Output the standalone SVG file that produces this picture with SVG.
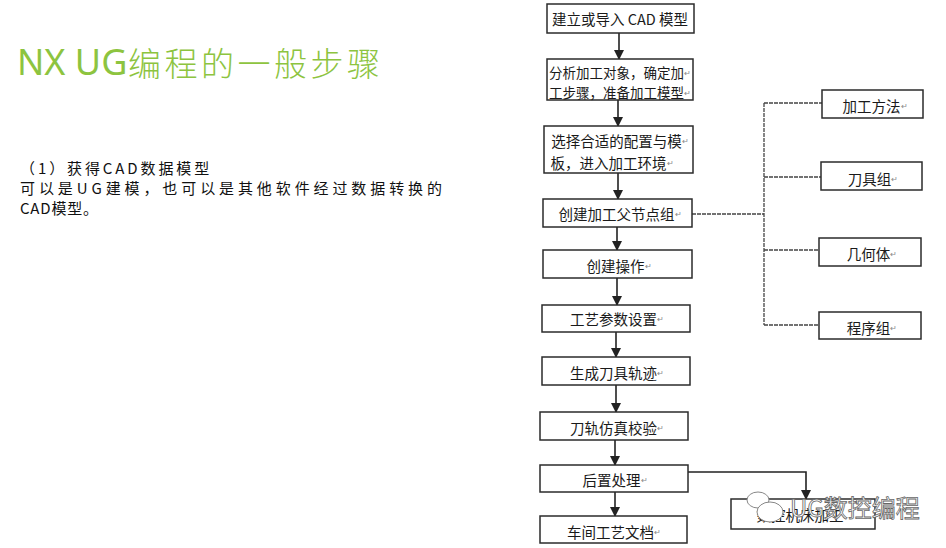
<svg xmlns="http://www.w3.org/2000/svg" width="946" height="548" viewBox="0 0 946 548">
<defs>
<style>
.box{fill:#fff;stroke:#2b2b2b;stroke-width:1.5}
.t{font-family:"Noto Sans CJK SC","Noto Sans",sans-serif;font-size:14.5px;fill:#1a1a1a;text-anchor:middle;dominant-baseline:central}
.s{font-size:13.5px}
.rt{font-size:8px;fill:#888}
.flow{stroke:#222;stroke-width:1.6;fill:none}
.side{stroke:#444;stroke-width:1.3;fill:none;stroke-dasharray:4 1}
.body{font-family:"Noto Sans CJK SC","Noto Sans",sans-serif;font-size:15px;fill:#111}
</style>
<marker id="ah" markerWidth="10" markerHeight="10" refX="9" refY="5" orient="auto" markerUnits="userSpaceOnUse">
<path d="M0,0 L10,5 L0,10 Z" fill="#222"/>
</marker>
</defs>
<rect width="946" height="548" fill="#fff"/>
<g id="title">
<text x="17" y="75" font-family="'Noto Sans','Open Sans',sans-serif" font-size="36" fill="#8dc43f">NX UG</text>
<text x="128" y="76" font-family="'Noto Sans CJK SC',sans-serif" font-weight="300" font-size="33" fill="#8dc43f" textLength="252" lengthAdjust="spacing">编程的一般步骤</text>
</g>
<g id="desc">
<text class="body" x="20" y="174" letter-spacing="2.9">（1）获得CAD数据模型</text>
<text class="body" x="20" y="194" letter-spacing="3.9">可以是UG建模，也可以是其他软件经过数据转换的</text>
<text class="body" x="20" y="214" letter-spacing="0.8">CAD模型。</text>
</g>
<g id="connectors">
<line class="flow" x1="619" y1="33" x2="619" y2="59" marker-end="url(#ah)"/>
<line class="flow" x1="618" y1="100" x2="618" y2="126" marker-end="url(#ah)"/>
<line class="flow" x1="618" y1="173" x2="618" y2="199" marker-end="url(#ah)"/>
<line class="flow" x1="617" y1="227" x2="617" y2="250" marker-end="url(#ah)"/>
<line class="flow" x1="617" y1="278" x2="617" y2="305" marker-end="url(#ah)"/>
<line class="flow" x1="616" y1="332" x2="616" y2="357" marker-end="url(#ah)"/>
<line class="flow" x1="616" y1="385" x2="616" y2="412" marker-end="url(#ah)"/>
<line class="flow" x1="615" y1="440" x2="615" y2="465" marker-end="url(#ah)"/>
<line class="flow" x1="615" y1="492" x2="615" y2="516" marker-end="url(#ah)"/>
<path class="side" d="M692,214 H764"/>
<path class="side" d="M764,103 V325"/>
<path class="side" d="M764,103 H822"/>
<path class="side" d="M764,177 H821"/>
<path class="side" d="M764,250 H819"/>
<path class="side" d="M764,325 H819"/>
<path class="flow" d="M688,472 H806 V499" marker-end="url(#ah)"/>
</g>
<g id="n1"><rect class="box" x="547" y="4" width="147" height="29"/><text class="t" x="620" y="18">建立或导入 CAD 模型</text></g>
<g id="n2"><rect class="box" x="547" y="59" width="146" height="41"/><text class="t s" x="620" y="72">分析加工对象，确定加<tspan class="rt">↵</tspan></text><text class="t s" x="620" y="92">工步骤，准备加工模型<tspan class="rt">↵</tspan></text></g>
<g id="n3"><rect class="box" x="544" y="126" width="149" height="47"/><text class="t" x="620" y="140">选择合适的配置与模<tspan class="rt">↵</tspan></text><text class="t" x="612" y="162">板，进入加工环境<tspan class="rt">↵</tspan></text></g>
<g id="n4"><rect class="box" x="543" y="199" width="149" height="28"/><text class="t" x="620" y="213">创建加工父节点组<tspan class="rt">↵</tspan></text></g>
<g id="n5"><rect class="box" x="543" y="250" width="149" height="28"/><text class="t" x="619" y="265">创建操作<tspan class="rt">↵</tspan></text></g>
<g id="n6"><rect class="box" x="542" y="305" width="148" height="27"/><text class="t" x="617" y="318">工艺参数设置<tspan class="rt">↵</tspan></text></g>
<g id="n7"><rect class="box" x="542" y="357" width="148" height="28"/><text class="t" x="617" y="372">生成刀具轨迹<tspan class="rt">↵</tspan></text></g>
<g id="n8"><rect class="box" x="540" y="412" width="148" height="28"/><text class="t" x="617" y="427">刀轨仿真校验<tspan class="rt">↵</tspan></text></g>
<g id="n9"><rect class="box" x="540" y="465" width="148" height="27"/><text class="t" x="615" y="479">后置处理<tspan class="rt">↵</tspan></text></g>
<g id="n10"><rect class="box" x="540" y="516" width="147" height="27"/><text class="t" x="614" y="531">车间工艺文档<tspan class="rt">↵</tspan></text></g>
<g id="r1"><rect class="box" x="822" y="90" width="101" height="28"/><text class="t" x="875" y="105">加工方法<tspan class="rt">↵</tspan></text></g>
<g id="r2"><rect class="box" x="821" y="162" width="101" height="28"/><text class="t" x="873" y="178">刀具组<tspan class="rt">↵</tspan></text></g>
<g id="r3"><rect class="box" x="819" y="238" width="102" height="28"/><text class="t" x="872" y="253">几何体<tspan class="rt">↵</tspan></text></g>
<g id="r4"><rect class="box" x="819" y="312" width="102" height="27"/><text class="t" x="872" y="327">程序组<tspan class="rt">↵</tspan></text></g>
<g id="r5"><rect class="box" x="731" y="499" width="144" height="30"/><text class="t" x="800" y="514" fill="#444">数控机床加工</text></g>
<g id="watermark">
<ellipse cx="758" cy="500" rx="11" ry="8" fill="#fff" stroke="#888" stroke-width="1"/>
<ellipse cx="770" cy="512" rx="13" ry="10" fill="#fff" stroke="#888" stroke-width="1"/>
<text x="790" y="517" font-family="'Noto Sans CJK SC',sans-serif" font-size="24" fill="#fff" stroke="#666" stroke-width="0.8">UG数控编程</text>
</g>
</svg>
